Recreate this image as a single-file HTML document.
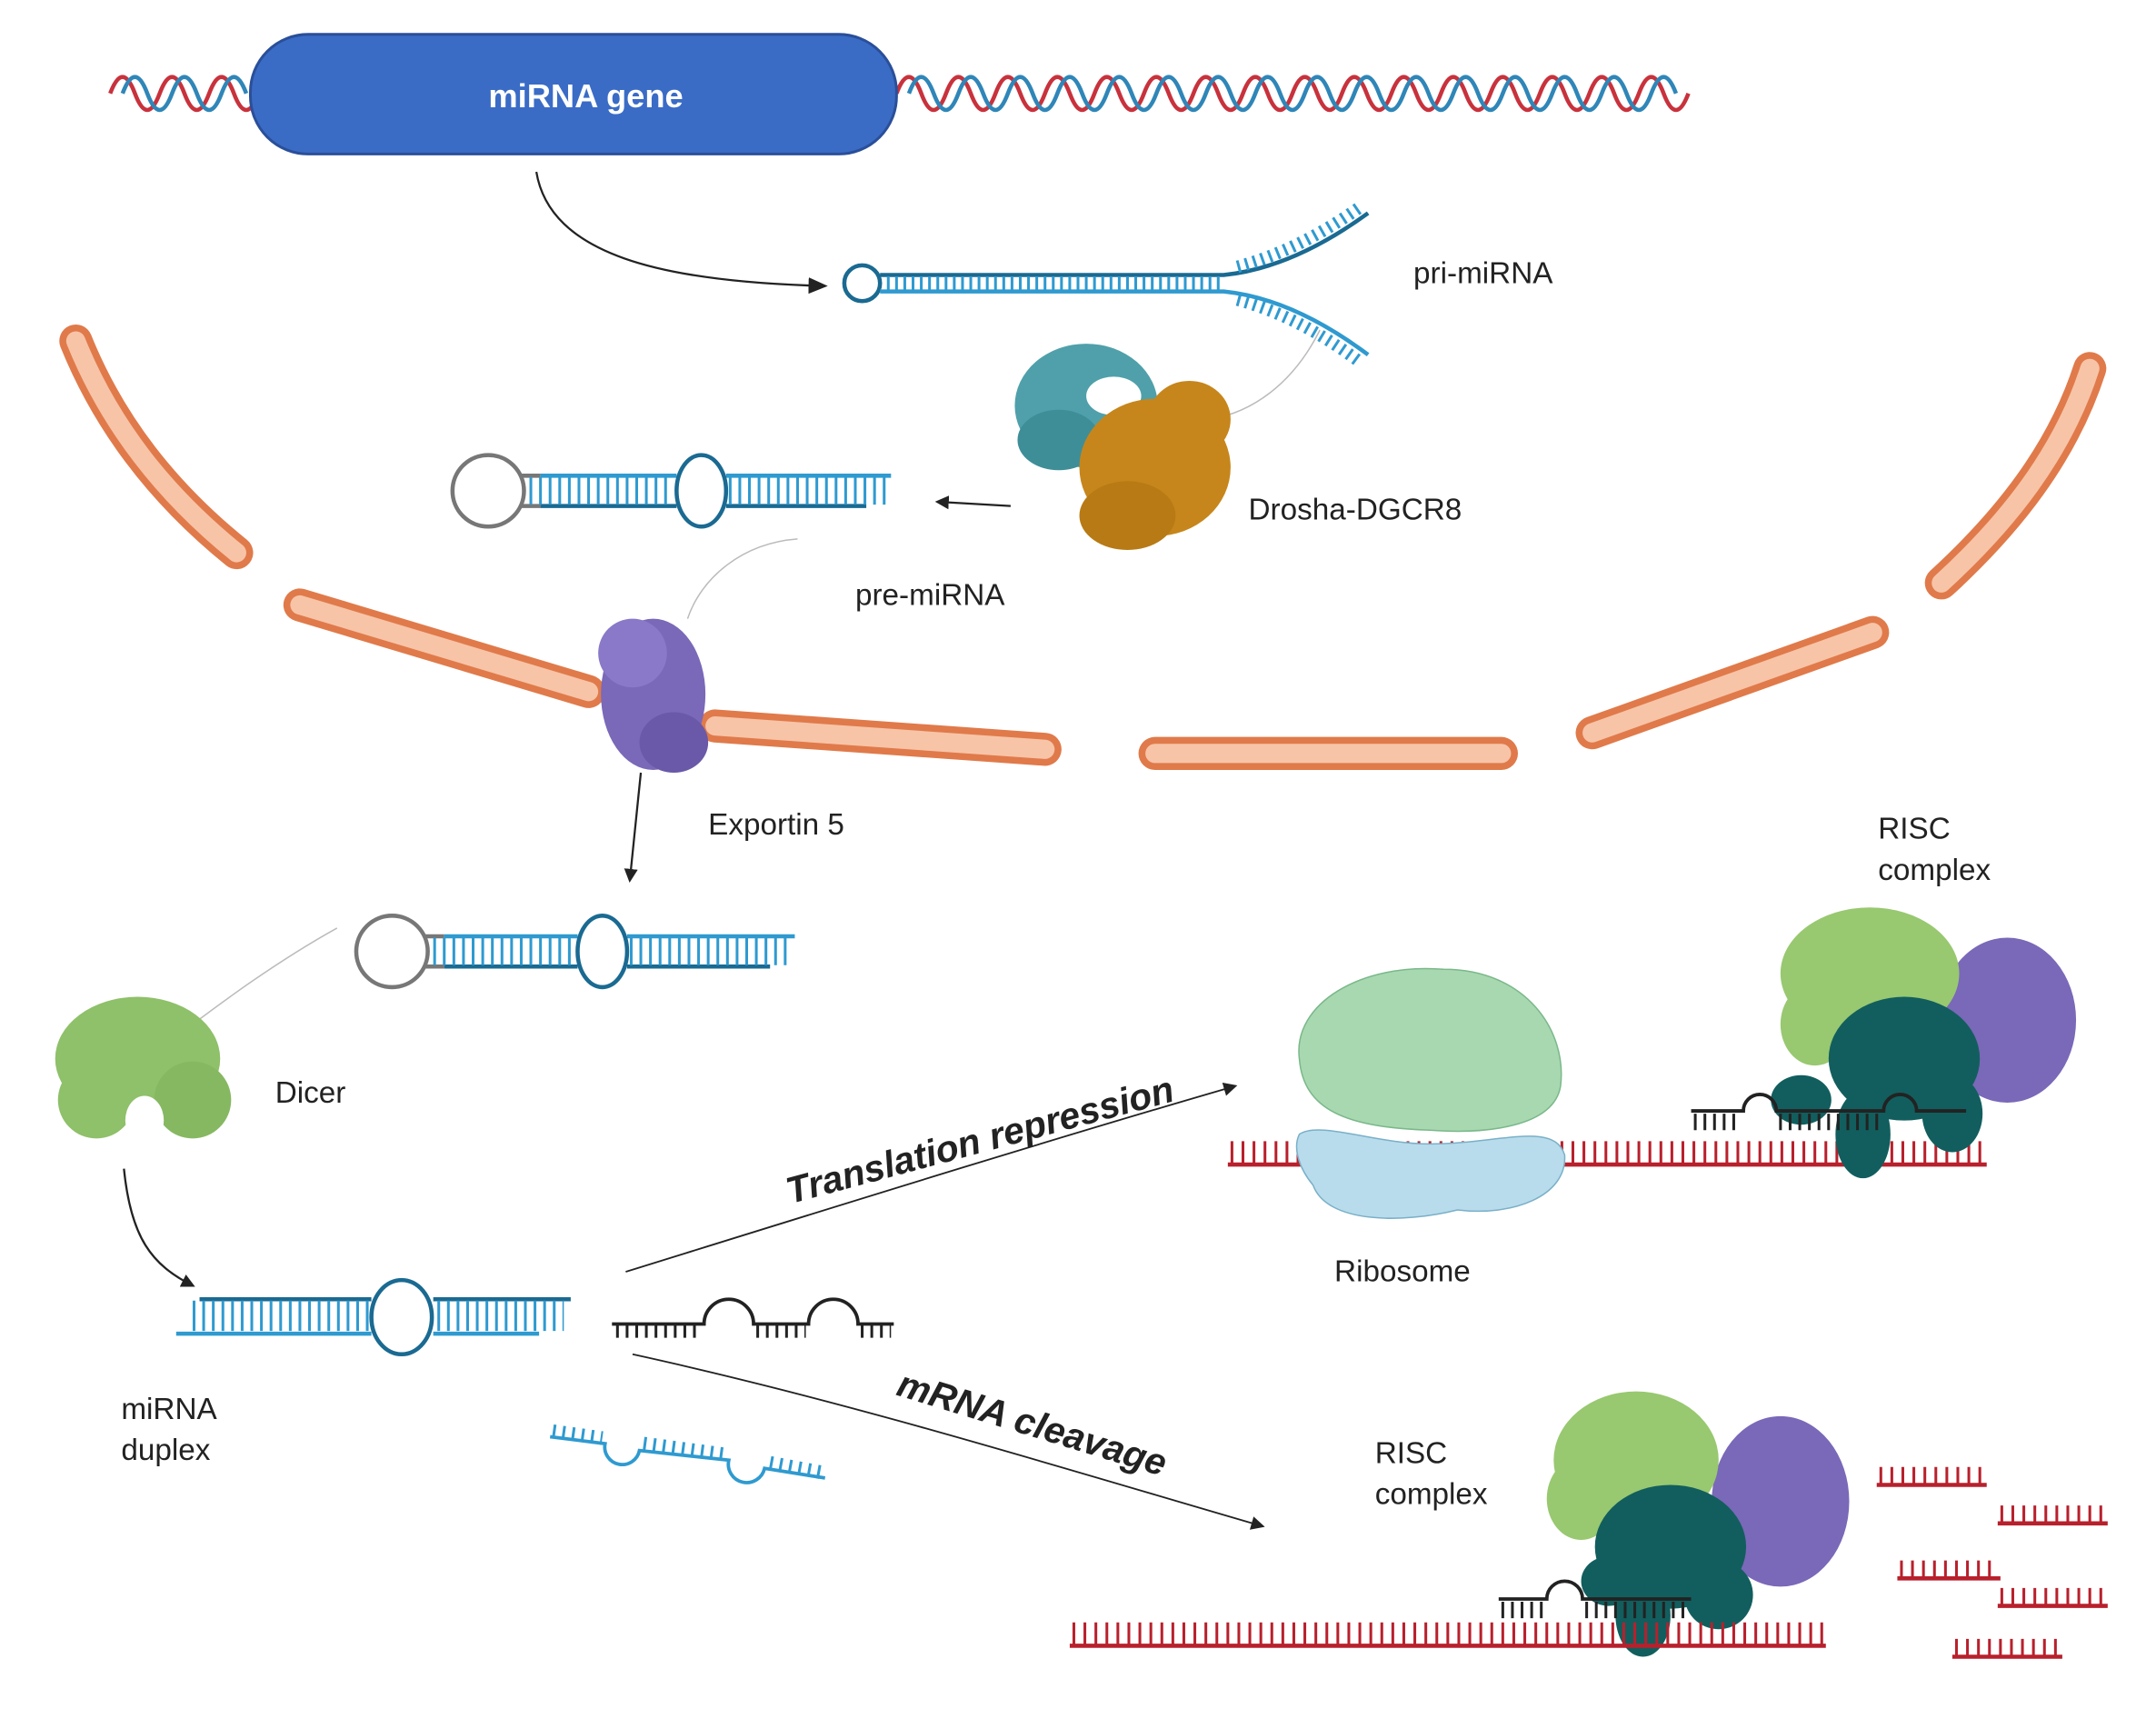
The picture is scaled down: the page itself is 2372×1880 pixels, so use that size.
<!DOCTYPE html>
<html><head><meta charset="utf-8"><style>
html,body{margin:0;padding:0;background:#fff;}
svg{display:block;}
text{font-family:"Liberation Sans",sans-serif;fill:#222;}
</style></head><body>
<svg width="2372" height="1880" viewBox="0 0 1568 1243" xmlns="http://www.w3.org/2000/svg">
<defs>
<marker id="ah" markerWidth="10" markerHeight="10" refX="8" refY="5" orient="auto" markerUnits="userSpaceOnUse"><path d="M0,0 L10,5 L0,10 z" fill="#222"/></marker>
<marker id="ah2" markerWidth="14" markerHeight="14" refX="12" refY="7" orient="auto" markerUnits="userSpaceOnUse"><path d="M0,1 L14,7 L0,13 z" fill="#222"/></marker>
</defs>
<!-- DNA helix -->
<path d="M80,68 q9,-24 18,0 t18,0 t18,0 t18,0 t18,0 t18,0 M652,68 q9,-24 18,0 t18,0 t18,0 t18,0 t18,0 t18,0 t18,0 t18,0 t18,0 t18,0 t18,0 t18,0 t18,0 t18,0 t18,0 t18,0 t18,0 t18,0 t18,0 t18,0 t18,0 t18,0 t18,0 t18,0 t18,0 t18,0 t18,0 t18,0 t18,0 t18,0 t18,0 t18,0" fill="none" stroke="#c8323c" stroke-width="3"/>
<path d="M89,68 q9,-24 18,0 t18,0 t18,0 t18,0 t18,0 M661,68 q9,-24 18,0 t18,0 t18,0 t18,0 t18,0 t18,0 t18,0 t18,0 t18,0 t18,0 t18,0 t18,0 t18,0 t18,0 t18,0 t18,0 t18,0 t18,0 t18,0 t18,0 t18,0 t18,0 t18,0 t18,0 t18,0 t18,0 t18,0 t18,0 t18,0 t18,0 t18,0" fill="none" stroke="#2f86b8" stroke-width="3"/>
<rect x="182" y="25" width="470" height="87" rx="42" fill="#3a6cc6" stroke="#2a4f99" stroke-width="2"/>
<text x="426" y="78" font-size="24" font-weight="bold" text-anchor="middle" style="fill:#fff">miRNA gene</text>
<path d="M390,125 C400,185 480,205 600,208" fill="none" stroke="#222" stroke-width="1.5" marker-end="url(#ah2)"/>
<!-- nuclear envelope -->
<g fill="none" stroke-linecap="round">
<g stroke="#e07a4a" stroke-width="24">
<path d="M55,248 C80,310 120,360 172,402"/><path d="M218,440 L428,503"/><path d="M520,528 L760,545"/><path d="M840,548 L1092,548"/><path d="M1158,533 L1362,460"/><path d="M1520,268 C1500,330 1460,380 1412,424"/>
</g>
<g stroke="#f7c4a8" stroke-width="14">
<path d="M55,248 C80,310 120,360 172,402"/><path d="M218,440 L428,503"/><path d="M520,528 L760,545"/><path d="M840,548 L1092,548"/><path d="M1158,533 L1362,460"/><path d="M1520,268 C1500,330 1460,380 1412,424"/>
</g></g>
<!-- pri-miRNA -->
<g fill="none">
<circle cx="627" cy="206" r="13" stroke="#1a6a92" stroke-width="3"/>
<path d="M640,200 L890,200 Q940,195 995,155" stroke="#1a6a92" stroke-width="3"/>
<path d="M640,212 L890,212 Q940,217 995,258" stroke="#2f9ad0" stroke-width="3"/>
<path d="M645,206 L890,206" stroke="#2f9ad0" stroke-width="10" stroke-dasharray="2 4"/>
<path d="M900,194 Q945,182 990,150" stroke="#2f9ad0" stroke-width="9" stroke-dasharray="2 4"/>
<path d="M900,218 Q945,230 990,264" stroke="#2f9ad0" stroke-width="9" stroke-dasharray="2 4"/>
</g>
<text x="1028" y="206" font-size="22">pri-miRNA</text>
<path d="M960,240 C940,280 910,300 880,305" fill="none" stroke="#bbb" stroke-width="1"/>
<!-- Drosha -->
<g>
<ellipse cx="790" cy="295" rx="52" ry="45" fill="#4fa0aa"/>
<ellipse cx="770" cy="320" rx="30" ry="22" fill="#3e8e98"/>
<ellipse cx="810" cy="288" rx="20" ry="14" fill="#fff"/>
<ellipse cx="840" cy="340" rx="55" ry="50" fill="#c6861c"/>
<ellipse cx="865" cy="305" rx="30" ry="28" fill="#c6861c"/>
<ellipse cx="820" cy="375" rx="35" ry="25" fill="#b87a14"/>
</g>
<text x="908" y="378" font-size="22">Drosha-DGCR8</text>
<path d="M735,368 L682,365" stroke="#222" stroke-width="1.5" marker-end="url(#ah)"/>
<!-- pre-miRNA 1 -->
<g fill="none">
<circle cx="355" cy="357" r="26" stroke="#777" stroke-width="3"/>
<path d="M378,346 L393,346 M378,368 L393,368" stroke="#777" stroke-width="3"/>
<path d="M393,346 L492,346 M528,346 L648,346" stroke="#2f9ad0" stroke-width="3"/>
<path d="M393,368 L492,368 M528,368 L630,368" stroke="#1a6a92" stroke-width="3"/>
<ellipse cx="510" cy="357" rx="18" ry="26" stroke="#1a6a92" stroke-width="3"/>
<path d="M385,357 L490,357 M530,357 L645,357" stroke="#2f9ad0" stroke-width="20" stroke-dasharray="2 5"/>
</g>
<text x="622" y="440" font-size="22">pre-miRNA</text>
<path d="M580,392 C540,395 510,420 500,450" fill="none" stroke="#bbb" stroke-width="1"/>
<!-- Exportin -->
<g fill="#7a68b8">
<ellipse cx="475" cy="505" rx="38" ry="55"/>
<ellipse cx="460" cy="475" rx="25" ry="25" fill="#8a78c8"/>
<ellipse cx="490" cy="540" rx="25" ry="22" fill="#6a58a8"/>
</g>
<text x="515" y="607" font-size="22">Exportin 5</text>
<path d="M466,562 L458,640" stroke="#222" stroke-width="1.5" marker-end="url(#ah)"/>
<!-- pre-miRNA 2 -->
<g fill="none">
<circle cx="285" cy="692" r="26" stroke="#777" stroke-width="3"/>
<path d="M308,681 L323,681 M308,703 L323,703" stroke="#777" stroke-width="3"/>
<path d="M323,681 L420,681 M456,681 L578,681" stroke="#2f9ad0" stroke-width="3"/>
<path d="M323,703 L420,703 M456,703 L560,703" stroke="#1a6a92" stroke-width="3"/>
<ellipse cx="438" cy="692" rx="18" ry="26" stroke="#1a6a92" stroke-width="3"/>
<path d="M315,692 L418,692 M458,692 L575,692" stroke="#2f9ad0" stroke-width="20" stroke-dasharray="2 5"/>
</g>
<path d="M245,675 C200,700 160,730 140,745" fill="none" stroke="#bbb" stroke-width="1"/>
<!-- Dicer -->
<g>
<ellipse cx="100" cy="770" rx="60" ry="45" fill="#8fc06a"/>
<ellipse cx="70" cy="800" rx="28" ry="28" fill="#8fc06a"/>
<ellipse cx="140" cy="800" rx="28" ry="28" fill="#86b862"/>
<ellipse cx="105" cy="815" rx="14" ry="18" fill="#fff"/>
</g>
<text x="200" y="802" font-size="22">Dicer</text>
<path d="M90,850 C95,900 110,920 140,935" fill="none" stroke="#222" stroke-width="1.5" marker-end="url(#ah)"/>
<!-- miRNA duplex -->
<g fill="none">
<path d="M145,945 L270,945 M315,945 L415,945" stroke="#1a6a92" stroke-width="3"/>
<path d="M128,970 L270,970 M315,970 L392,970" stroke="#2f9ad0" stroke-width="3"/>
<ellipse cx="292" cy="958" rx="22" ry="27" stroke="#1a6a92" stroke-width="3"/>
<path d="M140,957 L268,957 M318,957 L410,957" stroke="#2f9ad0" stroke-width="22" stroke-dasharray="2 5"/>
</g>
<text x="88" y="1032" font-size="22">miRNA</text>
<text x="88" y="1062" font-size="22">duplex</text>
<!-- black strand -->
<g fill="none" stroke="#222">
<path d="M445,963 L512,963 A18,18 0 0 1 548,963 L588,963 A18,18 0 0 1 624,963 L650,963" stroke-width="2.5"/>
<path d="M448,968 L510,968 M550,968 L586,968 M626,968 L648,968" stroke-width="10" stroke-dasharray="2 5"/>
</g>
<!-- blue strand -->
<g fill="none" stroke="#2f9ad0">
<path d="M400,1045 L440,1050 A12,12 0 0 0 465,1055 L530,1062 A12,12 0 0 0 556,1068 L600,1075" stroke-width="2.5"/>
<path d="M402,1041 L438,1046 M468,1050 L528,1058 M560,1064 L598,1071" stroke-width="10" stroke-dasharray="2 5"/>
</g>
<!-- translation repression -->
<path d="M455,925 C600,880 760,830 898,790" fill="none" stroke="#222" stroke-width="1.2" marker-end="url(#ah)"/>
<text x="715" y="838" font-size="27" font-weight="bold" font-style="italic" text-anchor="middle" transform="rotate(-15 715 838)">Translation repression</text>
<path d="M460,985 C620,1020 780,1070 918,1110" fill="none" stroke="#222" stroke-width="1.2" marker-end="url(#ah)"/>
<text x="748" y="1044" font-size="27" font-weight="bold" font-style="italic" text-anchor="middle" transform="rotate(17 748 1044)">mRNA cleavage</text>
<!-- top mRNA -->
<g fill="none" stroke="#b8202c">
<path d="M893,847 L1445,847" stroke-width="3"/>
<path d="M895,838 L1443,838" stroke-width="16" stroke-dasharray="2 6"/>
</g>
<!-- Ribosome -->
<path d="M945,770 C940,730 990,700 1050,705 C1110,705 1140,750 1135,790 C1130,820 1080,825 1040,822 C980,820 948,808 945,770 z" fill="#a8d8b0" stroke="#7ab88a" stroke-width="1"/>
<path d="M945,825 C960,815 1000,832 1040,832 C1090,832 1130,815 1138,840 C1140,870 1100,885 1060,880 C1020,890 965,890 955,862 C945,850 940,835 945,825 z" fill="#b8dcec" stroke="#7ab0c8" stroke-width="1"/>
<text x="1020" y="932" font-size="22" text-anchor="middle">Ribosome</text>
<!-- RISC top -->
<text x="1366" y="610" font-size="22">RISC</text>
<text x="1366" y="640" font-size="22">complex</text>
<g>
<ellipse cx="1460" cy="742" rx="50" ry="60" fill="#7a68b8"/>
<ellipse cx="1360" cy="708" rx="65" ry="48" fill="#98c870"/>
<ellipse cx="1320" cy="745" rx="25" ry="30" fill="#98c870"/>
<ellipse cx="1385" cy="770" rx="55" ry="45" fill="#125e5e"/>
<ellipse cx="1355" cy="825" rx="20" ry="32" fill="#125e5e"/>
<ellipse cx="1420" cy="810" rx="22" ry="28" fill="#125e5e"/>
<ellipse cx="1310" cy="800" rx="22" ry="18" fill="#125e5e"/>
</g>
<g fill="none" stroke="#222">
<path d="M1230,808 L1268,808 A12,12 0 0 1 1292,808 L1370,808 A12,12 0 0 1 1394,808 L1430,808" stroke-width="2.5"/>
<path d="M1232,816 L1266,816 M1294,816 L1368,816" stroke-width="12" stroke-dasharray="2 5"/>
</g>
<!-- bottom RISC -->
<text x="1000" y="1064" font-size="22">RISC</text>
<text x="1000" y="1094" font-size="22">complex</text>
<g>
<ellipse cx="1295" cy="1092" rx="50" ry="62" fill="#7a68b8"/>
<ellipse cx="1190" cy="1062" rx="60" ry="50" fill="#98c870"/>
<ellipse cx="1150" cy="1090" rx="25" ry="30" fill="#98c870"/>
<ellipse cx="1215" cy="1125" rx="55" ry="45" fill="#125e5e"/>
<ellipse cx="1195" cy="1175" rx="20" ry="30" fill="#125e5e"/>
<ellipse cx="1250" cy="1160" rx="25" ry="25" fill="#125e5e"/>
<ellipse cx="1170" cy="1150" rx="20" ry="18" fill="#125e5e"/>
</g>
<g fill="none" stroke="#222">
<path d="M1090,1163 L1125,1163 A13,13 0 0 1 1151,1163 L1230,1163" stroke-width="2.5"/>
<path d="M1092,1171 L1123,1171 M1153,1171 L1228,1171" stroke-width="12" stroke-dasharray="2 5"/>
</g>
<g fill="none" stroke="#b8202c">
<path d="M778,1197 L1328,1197" stroke-width="3"/>
<path d="M780,1188 L1326,1188" stroke-width="16" stroke-dasharray="2 6"/>
<path d="M1365,1080 L1445,1080 M1453,1108 L1533,1108 M1380,1148 L1455,1148 M1453,1168 L1533,1168 M1420,1205 L1500,1205" stroke-width="3"/>
<path d="M1367,1073 L1443,1073 M1455,1101 L1531,1101 M1382,1141 L1453,1141 M1455,1161 L1531,1161 M1422,1198 L1498,1198" stroke-width="12" stroke-dasharray="2 6"/>
</g>
</svg>
</body></html>
